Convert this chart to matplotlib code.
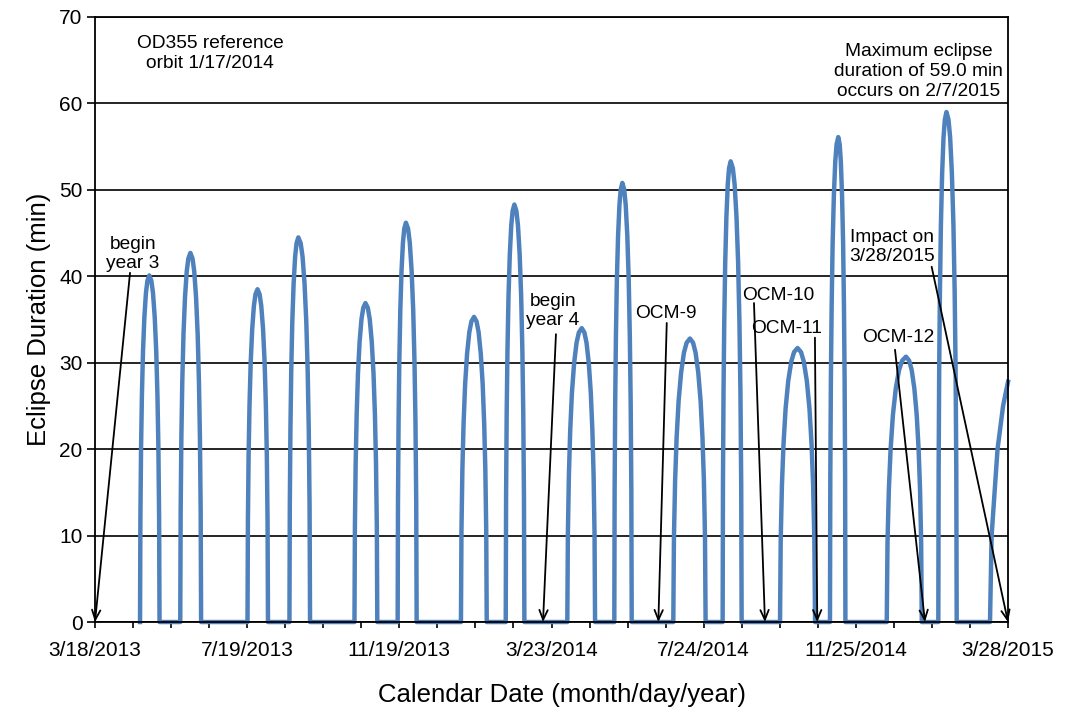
import matplotlib
matplotlib.use("Agg")
import matplotlib.pyplot as plt
import numpy as np

plt.rcParams['font.family'] = ['Liberation Sans', 'DejaVu Sans']

# ---- data (days since 3/18/2013) ----
season_start = [36.5, 69.1, 123.6, 157.6, 210.3, 245.3, 296.6, 332.9, 382.8,
                420.9, 468.7, 508.7, 555.2, 595.7, 641.7, 683.5]
season_peak_day = [44.0, 77.3, 131.7, 164.8, 219.2, 252.0, 307.2, 339.9, 394.5,
                   427.4, 482.2, 515.2, 569.4, 602.4, 657.3, 690.1]
season_end = [52.3, 86.0, 140.2, 174.3, 228.8, 260.7, 317.5, 348.0, 405.3,
              435.0, 494.9, 524.1, 583.6, 608.2, 670.1, 698.4]
season_peak_min = [40.1, 42.7, 38.5, 44.5, 36.9, 46.2, 35.3, 48.3, 34.0,
                   50.8, 32.8, 53.3, 31.7, 56.1, 30.7, 59.0]
# shape of one season (fraction of peak, fraction of half width)
profile_height = [0.0, 0.3, 0.5, 0.65, 0.78, 0.88, 0.95, 0.985, 1.0]
profile_width = [1.0, 0.96, 0.89, 0.80, 0.68, 0.53, 0.36, 0.20, 0.0]
# last (partial) season up to impact
last_days = [725.4, 726.7, 731.5, 736.0, 740.0]
last_min = [0.0, 10.0, 20.0, 25.0, 27.8]

tick_days = [0, 123.33, 246.67, 370.0, 493.33, 616.67, 740.0]
tick_labels = ['3/18/2013', '7/19/2013', '11/19/2013', '3/23/2014',
               '7/24/2014', '11/25/2014', '3/28/2015']

# ---- build series ----
xs, ys = [], []
for s, p, e, v in zip(season_start, season_peak_day, season_end, season_peak_min):
    for h, w in zip(profile_height, profile_width):
        xs.append(p - (p - s) * w)
        ys.append(v * h)
    for h, w in zip(profile_height[::-1][1:], profile_width[::-1][1:]):
        xs.append(p + (e - p) * w)
        ys.append(v * h)
xs += last_days
ys += last_min

fig = plt.figure(figsize=(10.65, 7.13), dpi=100)
ax = fig.add_axes([0.0892, 0.1276, 0.8573, 0.8486])

ax.set_xlim(0, 740)
ax.set_ylim(0, 70)
ax.set_yticks(range(0, 71, 10))
ax.grid(axis='y', color='black', lw=1.2)
ax.set_axisbelow(True)

ax.plot(xs, ys, color='#4F81BD', lw=3.2, solid_joinstyle='round', zorder=3, clip_on=False)

ax.set_xticks(tick_days)
ax.set_xticklabels(tick_labels)
ax.set_xticks(np.arange(0, 740.1, 740 / 24), minor=True)
ax.tick_params(axis='x', which='both', direction='out', length=4, width=1.2, labelsize=15, pad=10)
ax.tick_params(axis='y', direction='out', length=6, width=1.2, labelsize=15, pad=3)
for sp in ax.spines.values():
    sp.set_linewidth(1.3)
    sp.set_color('black')
    sp.set_zorder(8)

ax.set_ylabel('Eclipse Duration (min)', fontsize=18.5, labelpad=6)
ax.set_xlabel('Calendar Date (month/day/year)', fontsize=18.5, labelpad=16)
ax.xaxis.label.set_x(0.512)

fs = 13.8
ax.text(93.2, 65.8, 'OD355 reference\norbit 1/17/2014', ha='center', va='center', fontsize=fs)
ax.text(667.5, 63.7, 'Maximum eclipse\nduration of 59.0 min\noccurs on 2/7/2015', ha='center',
        va='center', fontsize=fs, zorder=5, bbox=dict(facecolor='white', edgecolor='none', pad=1))

labels = [('begin\nyear 3', 30.8, 42.6, (28.4, 40.4), (0, 0)),
          ('begin\nyear 4', 371.2, 36.0, (373.6, 33.3), (363.1, 0)),
          ('OCM-9', 462.8, 35.75, (463.4, 34.6), (456.6, 0)),
          ('OCM-10', 553.6, 37.8, (534.1, 36.9), (543.0, 0)),
          ('OCM-11', 560.9, 34.0, (583.5, 32.9), (585.4, 0)),
          ('OCM-12', 650.8, 32.9, (648.4, 31.5), (672.7, 0)),
          ('Impact on\n3/28/2015', 646.0, 43.4, (678.1, 41.1), (740, 0))]
for txt, tx, ty, tail, tip in labels:
    ax.text(tx, ty, txt, ha='center', va='center', fontsize=fs, zorder=6)
    ax.annotate('', xy=tip, xytext=tail, zorder=6,
                arrowprops=dict(arrowstyle='->,head_length=0.7,head_width=0.3',
                                color='black', lw=1.3, shrinkA=0, shrinkB=0),
                annotation_clip=False)

fig.savefig('out.png', dpi=100)
